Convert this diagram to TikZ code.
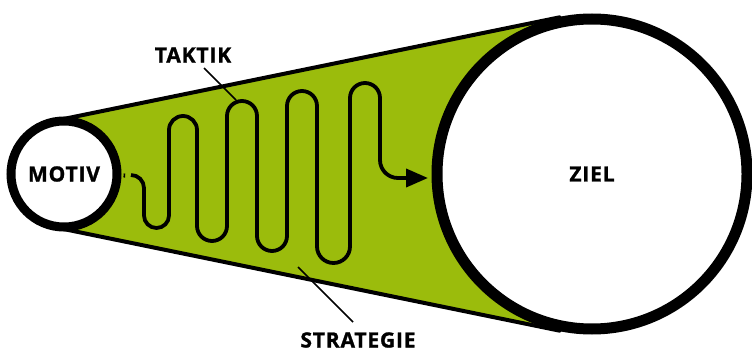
\documentclass[tikz,border=0pt]{standalone}
\usepackage{fontspec}
\newfontfamily\lblfont{Open Sans}[LetterSpace=4,FakeBold=1.2]
\usetikzlibrary{calc,arrows.meta}
\definecolor{lime}{RGB}{155,188,12}
\begin{document}
\begin{tikzpicture}[x=1pt,y=1pt,
  lbl/.style={font=\lblfont\bfseries\fontsize{21}{21}\selectfont, inner sep=0pt},
  ring/.style={circle, draw=black, fill=white, inner sep=0pt},
  edge/.style={line width=4pt, line cap=round},
  wave/.style={line width=3.8pt, line join=round},
  leader/.style={line width=1.5pt}]
\useasboundingbox (0,0) rectangle (752,354);
\coordinate (S) at (64,180);
\coordinate (B) at (592,180);
\coordinate (st) at ($(S)+(101.7:54)$);
\coordinate (sb) at ($(S)+(-101.7:54)$);
\coordinate (bt) at ($(B)+(101.7:160)$);
\coordinate (bb) at ($(B)+(-101.7:160)$);
\fill[lime] (st) -- (bt) -- (bb) -- (sb) -- cycle;
\draw[edge] (st) -- (bt);
\draw[edge] (sb) -- (bb);
\node[ring, line width=9pt, minimum size=106pt, lbl] (motiv) at (S) {MOTIV};
\node[ring, line width=11pt, minimum size=310pt, lbl] (ziel) at (B) {ZIEL};
% small tick
\coordinate (t1) at (124.5,180.5);
\coordinate (t2) at (124.2,176.5);
\draw[line width=1.6pt] (t1) -- (t2);
% wave
\coordinate (wstart) at (131,179);
\coordinate (wend) at (428,176);
\draw[wave, -{Triangle[length=22pt,width=18pt]}] (wstart)
  arc[start angle=90, end angle=0, radius=13] -- (144,138.5)
  arc[start angle=180, end angle=360, radius=12.5] -- (169,224)
  arc[start angle=180, end angle=0, radius=14] -- (197,128)
  arc[start angle=180, end angle=360, radius=15] -- (227,238)
  arc[start angle=180, end angle=0, radius=15] -- (257,118)
  arc[start angle=180, end angle=360, radius=15] -- (287,248)
  arc[start angle=180, end angle=0, radius=15] -- (317,107.5)
  arc[start angle=180, end angle=360, radius=16.5] -- (350,256)
  arc[start angle=180, end angle=0, radius=15] -- (380,194)
  arc[start angle=180, end angle=270, radius=18] -- (wend);
% labels
\node[lbl] (taktik) at (193,299) {TAKTIK};
\node[lbl] (strategie) at (358,14) {STRATEGIE};
\coordinate (tk1) at (204,286);
\coordinate (tk2) at (236,254);
\coordinate (sg1) at (298,87);
\coordinate (sg2) at (353,32);
\draw[leader] (tk1) -- (tk2);
\draw[leader] (sg1) -- (sg2);
\end{tikzpicture}
\end{document}
